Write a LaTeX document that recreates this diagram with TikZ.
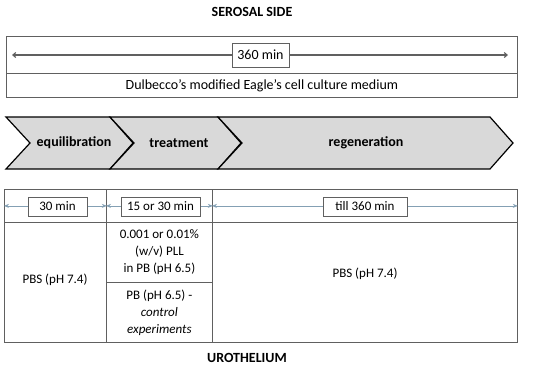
\documentclass[tikz,border=0pt]{standalone}
\usepackage{fontspec}
\setmainfont{Carlito}
\usepackage{xcolor}
\usepackage{tikz}
\usetikzlibrary{positioning, arrows.meta, calc}
\definecolor{lineGray}{RGB}{96, 96, 96}
\definecolor{chevGray}{RGB}{217, 217, 217}
\definecolor{spanBlue}{RGB}{132, 160, 180}

\begin{document}
\begin{tikzpicture}[
    x=1pt, y=-1pt,
    font=\fontsize{14}{16}\selectfont,
    title/.style={font=\fontsize{14}{16}\selectfont\bfseries},
    cell/.style={rectangle, draw=lineGray, line width=0.8pt, inner sep=0pt, anchor=north west},
    tag/.style={rectangle, draw=lineGray, line width=0.8pt, fill=white, inner sep=0pt, align=center},
    chev/.style={draw=black, line width=1.2pt, fill=chevGray, line join=miter},
    small/.style={font=\fontsize{13}{17}\selectfont, align=center},
    span/.style={{Stealth[length=5pt, width=4pt]}-{Stealth[length=5pt, width=4pt]}, spanBlue, line width=0.7pt},
    total/.style={{Straight Barb[length=3pt, width=5pt]}-{Straight Barb[length=3pt, width=5pt]}, lineGray, line width=1.1pt}
]
\useasboundingbox (0,0) rectangle (550,370);

% serosal side
\node[title] (serosa) at (252,12) {SEROSAL SIDE};
\node[cell, minimum width=511pt, minimum height=37pt] (durrow) at (6,36) {};
\node[cell, minimum width=511pt, minimum height=24pt] (medrow) at (6,73) {};
\coordinate (tl) at (12,55);
\coordinate (tr) at (508,55);
\draw[total] (tl) -- (tr);
\node[tag, minimum width=57pt, minimum height=24pt] (dur) at (260.5,55) {360 min};
\node (medium) at (medrow.center) {Dulbecco's modified Eagle's cell culture medium};

% phases
\foreach \a/\b/\m/\name/\txt in {6/110/74/equi/equilibration, 110/218/179/treat/treatment, 218/490/366/regen/regeneration} {
    \draw[chev] (\a,117) -- (\b,117) -- (\b+23,143) -- (\b,169) -- (\a,169) -- (\a+24,143) -- cycle;
    \node[title] (\name) at (\m,143) {\txt};
}

% urothelium side
\node[cell, minimum width=102pt, minimum height=33pt] (t1) at (4,189) {};
\node[cell, minimum width=106pt, minimum height=33pt] (t2) at (106,189) {};
\node[cell, minimum width=305pt, minimum height=33pt] (t3) at (212,189) {};
\node[cell, minimum width=102pt, minimum height=120pt] (c1) at (4,222) {};
\node[cell, minimum width=106pt, minimum height=60pt] (c2a) at (106,222) {};
\node[cell, minimum width=106pt, minimum height=60pt] (c2b) at (106,282) {};
\node[cell, minimum width=305pt, minimum height=120pt] (c3) at (212,222) {};

\foreach \c in {t1, t2, t3} \draw[span] (\c.west) -- (\c.east);
\node[tag, small, minimum width=59pt, minimum height=19pt] (d1) at (57.5,206.5) {30 min};
\node[tag, small, minimum width=79pt, minimum height=19pt] (d2) at (160.5,206.5) {15 or 30 min};
\node[tag, small, minimum width=84pt, minimum height=19pt] (d3) at (365,206.5) {till 360 min};

\node[small] (pbs1) at (55,280) {PBS (pH 7.4)};
\node[small] (pll) at (c2a.center) {0.001 or 0.01\%\\(w/v) PLL\\in PB (pH 6.5)};
\node[small] (ctrl) at (c2b.center) {PB (pH 6.5) -\\\textit{control}\\\textit{experiments}};
\node[small] (pbs3) at (365,274) {PBS (pH 7.4)};

\node[title] (uro) at (247,358) {UROTHELIUM};
\end{tikzpicture}
\end{document}
